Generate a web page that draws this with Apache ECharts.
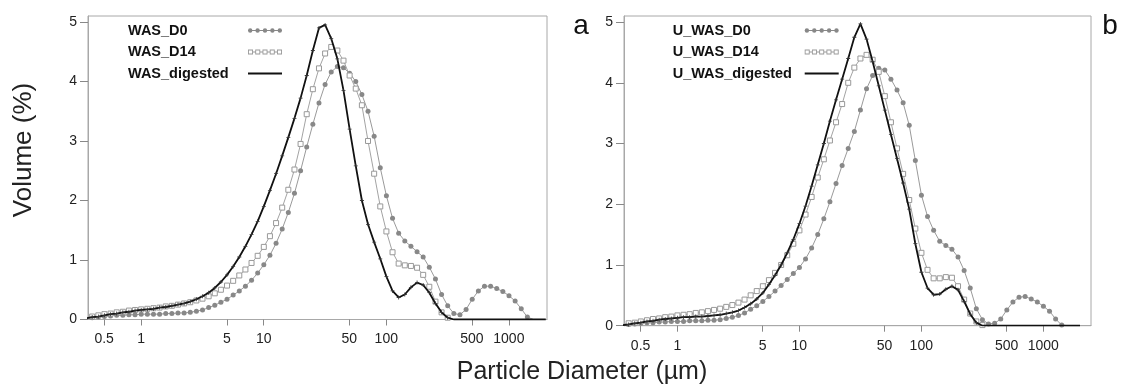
<!DOCTYPE html>
<html><head><meta charset="utf-8">
<script src="https://cdn.jsdelivr.net/npm/echarts@6/dist/echarts.min.js"></script>
<style>html,body{margin:0;padding:0;background:#fff}#c{width:1121px;height:385px}</style>
</head><body><div id="c"></div>
<script>
// Particle size classes (µm)
const diameters = [0.356,0.399,0.448,0.502,0.564,0.632,0.710,0.796,0.893,1.002,1.125,1.262,1.416,1.589,1.783,2.000,2.244,2.518,2.825,3.170,3.557,3.991,4.477,5.024,5.637,6.325,7.096,7.962,8.934,10.024,11.247,12.619,14.159,15.887,17.825,20.000,22.440,25.179,28.251,31.698,35.566,39.905,44.774,50.238,56.368,63.246,70.963,79.621,89.337,100.237,112.468,126.191,141.589,158.866,178.250,200.000,224.404,251.785,282.508,316.979,355.656,399.052,447.744,502.377,563.677,632.456,709.627,796.214,893.367,1002.374,1124.683,1261.915,1415.892,1588.656,1782.502,2000.000];
const xTickLabels = ['0.5','1','5','10','50','100','500','1000'];
const yTickValues = [0,1,2,3,4,5];
const namesA = ['WAS_D0','WAS_D14','WAS_digested'];
const namesB = ['U_WAS_D0','U_WAS_D14','U_WAS_digested'];
const panelLetters = ['a','b'];
const xTitle = 'Particle Diameter (µm)';
const yTitle = 'Volume (%)';

// Panel a
const wasD0 = [0.02,0.03,0.04,0.05,0.06,0.07,0.07,0.08,0.08,0.09,0.09,0.09,0.09,0.10,0.10,0.11,0.11,0.12,0.14,0.16,0.20,0.24,0.29,0.34,0.41,0.48,0.56,0.66,0.78,0.92,1.08,1.28,1.52,1.80,2.12,2.50,2.90,3.28,3.64,3.95,4.16,4.25,4.23,4.14,4.00,3.78,3.50,3.08,2.55,2.08,1.70,1.45,1.32,1.23,1.14,1.05,0.88,0.68,0.42,0.23,0.10,0.08,0.17,0.34,0.48,0.56,0.56,0.52,0.47,0.40,0.31,0.18,0.04,0,0,0];
const wasD14 = [0.03,0.05,0.07,0.09,0.10,0.12,0.13,0.15,0.16,0.17,0.18,0.19,0.20,0.22,0.23,0.25,0.27,0.29,0.32,0.35,0.39,0.44,0.50,0.57,0.65,0.74,0.84,0.95,1.07,1.22,1.40,1.62,1.88,2.18,2.52,2.95,3.45,3.87,4.22,4.47,4.58,4.52,4.35,4.10,3.88,3.60,3.00,2.45,1.90,1.48,1.13,0.94,0.91,0.90,0.87,0.75,0.55,0.30,0.12,0.03,0,0,0,0,0,0,0,0,0,0,0,0,0,0,0,0];
const wasDigested = [0.02,0.04,0.05,0.07,0.09,0.10,0.12,0.13,0.15,0.16,0.17,0.18,0.20,0.21,0.23,0.25,0.27,0.30,0.34,0.39,0.45,0.53,0.63,0.75,0.89,1.05,1.23,1.43,1.65,1.90,2.17,2.45,2.75,3.06,3.38,3.72,4.10,4.52,4.90,4.95,4.72,4.38,3.85,3.20,2.58,2.00,1.60,1.30,1.02,0.72,0.48,0.37,0.42,0.54,0.62,0.58,0.45,0.27,0.12,0.03,0,0,0,0,0,0,0,0,0,0,0,0,0,0,0,0];
// Panel b
const uwasD0 = [0.01,0.02,0.03,0.04,0.05,0.05,0.06,0.06,0.07,0.07,0.07,0.08,0.08,0.08,0.09,0.09,0.10,0.12,0.14,0.17,0.21,0.27,0.33,0.40,0.48,0.57,0.66,0.76,0.86,0.96,1.10,1.28,1.50,1.76,2.04,2.34,2.64,2.92,3.20,3.55,3.90,4.12,4.24,4.21,4.06,3.88,3.67,3.30,2.72,2.15,1.80,1.57,1.39,1.32,1.26,1.13,0.91,0.62,0.28,0.10,0.03,0.04,0.11,0.26,0.39,0.47,0.48,0.44,0.39,0.32,0.24,0.11,0.01,0,0,0];
const uwasD14 = [0.02,0.04,0.05,0.07,0.09,0.11,0.12,0.14,0.15,0.17,0.18,0.19,0.21,0.22,0.24,0.26,0.28,0.31,0.34,0.38,0.43,0.50,0.57,0.65,0.75,0.87,1.00,1.16,1.35,1.57,1.83,2.12,2.44,2.74,3.05,3.35,3.65,4.00,4.25,4.40,4.46,4.38,4.18,3.78,3.35,2.92,2.50,2.07,1.60,1.20,0.92,0.78,0.78,0.80,0.79,0.65,0.43,0.20,0.07,0.01,0,0,0,0,0,0,0,0,0,0,0,0,0,0,0,0];
const uwasDigested = [0.01,0.02,0.04,0.05,0.07,0.08,0.10,0.11,0.12,0.13,0.14,0.14,0.15,0.15,0.16,0.17,0.18,0.20,0.22,0.25,0.30,0.36,0.44,0.54,0.68,0.83,1.00,1.20,1.42,1.68,1.97,2.30,2.65,3.00,3.37,3.72,4.06,4.40,4.75,4.97,4.72,4.35,3.95,3.55,3.15,2.75,2.35,1.92,1.35,0.88,0.62,0.51,0.52,0.60,0.65,0.59,0.40,0.19,0.05,0,0,0,0,0,0,0,0,0,0,0,0,0,0,0,0,0];

const FONT = 'Liberation Sans, Arial, sans-serif';
const xTickVals = xTickLabels.map(s => Math.log10(parseFloat(s)));
const pts = vals => diameters.map((d, i) => [Math.log10(d), vals[i]]);

function dotPath(cx){ return 'M'+(cx-2.2)+',2.2a2.2,2.2 0 1,1 4.4,0a2.2,2.2 0 1,1 -4.4,0Z'; }
const dotX = [2.2,9.6,17,24.4,31.8];
const ICON_D0 = 'path://M0,1.7H34V2.7H0Z ' + dotX.map(dotPath).join(' ');
function sqPath(x0){ return 'M'+x0+',0H'+(x0+5)+'V5H'+x0+'Z M'+(x0+0.9)+',0.9V4.1H'+(x0+4.1)+'V0.9Z'; }
const sqX = [0,7.25,14.5,21.75,29];
let icon14 = 'path://' + sqX.map(sqPath).join(' ');
for (let i = 0; i < 4; i++) { icon14 += ' M'+(sqX[i]+5)+',2.1H'+sqX[i+1]+'V2.9H'+(sqX[i]+5)+'Z'; }
const ICON_DIG = 'path://M0,0H34V1.8H0Z';

const styles = [
  { symbol: 'circle', size: 5, item: { color: '#888888', borderWidth: 0 }, line: { color: '#9a9a9a', width: 1 }, icon: ICON_D0, iconColor: '#888888' },
  { symbol: 'rect', size: 5, item: { color: '#ffffff', borderColor: '#999999', borderWidth: 1 }, line: { color: '#a3a3a3', width: 1 }, icon: icon14, iconColor: '#9a9a9a' },
  { symbol: 'path://M2,0H3V5H2Z M0,2H5V3H0Z', size: 4, item: { color: '#333333', borderWidth: 0 }, line: { color: '#111111', width: 1.8 }, icon: ICON_DIG, iconColor: '#111111' }
];

const panels = [
  { names: namesA, data: [wasD0, wasD14, wasDigested], grid: { left: 88, top: 16, width: 459, height: 303.5 }, xMin: -0.433, xMax: 3.311, legendLeft: 128, textW: 115 },
  { names: namesB, data: [uwasD0, uwasD14, uwasDigested], grid: { left: 624, top: 16, width: 467, height: 309.7 }, xMin: -0.437, xMax: 3.391, legendLeft: 672.7, textW: 127 }
];

const option = {
  animation: false,
  backgroundColor: '#ffffff',
  textStyle: { fontFamily: FONT },
  grid: panels.map(p => Object.assign({ show: true, borderColor: '#a8a8a8', borderWidth: 1, backgroundColor: 'transparent', containLabel: false }, p.grid)),
  xAxis: panels.map((p, gi) => ({
    type: 'value', gridIndex: gi, min: p.xMin, max: p.xMax,
    axisLine: { show: true, onZero: false, lineStyle: { color: '#a8a8a8', width: 1 } },
    axisTick: { show: true, length: 6, customValues: xTickVals, lineStyle: { color: '#888888' } },
    axisLabel: { show: true, customValues: xTickVals, margin: 13, fontSize: 14, color: '#222', fontFamily: FONT,
      formatter: v => { let best = 0; xTickVals.forEach((t, i) => { if (Math.abs(t - v) < Math.abs(xTickVals[best] - v)) best = i; }); return xTickLabels[best]; } },
    splitLine: { show: false }
  })),
  yAxis: panels.map((p, gi) => ({
    type: 'value', gridIndex: gi, min: 0, max: 5.1,
    axisLine: { show: true, onZero: false, lineStyle: { color: '#a8a8a8', width: 1 } },
    axisTick: { show: true, length: 8, customValues: yTickValues, lineStyle: { color: '#888888' } },
    axisLabel: { show: true, customValues: yTickValues, margin: 11, fontSize: 14, color: '#222', fontFamily: FONT },
    splitLine: { show: false }
  })),
  legend: panels.map(p => ({
    orient: 'vertical', left: p.legendLeft, top: 23, align: 'right', padding: 0,
    itemWidth: 34, itemHeight: 6, itemGap: 6.5, selectedMode: false,
    formatter: '{t|{name}}',
    textStyle: { rich: { t: { width: p.textW, align: 'left', fontSize: 14.5, fontWeight: 'bold', fontFamily: FONT, color: '#111', lineHeight: 14 } } },
    data: p.names.map((n, k) => ({ name: n, icon: styles[k].icon, itemStyle: { color: styles[k].iconColor, borderWidth: 0 } }))
  })),
  series: [],
  graphic: [
    { type: 'text', x: 24, y: 150, rotation: Math.PI / 2, style: { text: yTitle, fontSize: 26, fontFamily: FONT, fill: '#222', align: 'center', verticalAlign: 'middle' } },
    { type: 'text', x: 582, y: 372, style: { text: xTitle, fontSize: 25, fontFamily: FONT, fill: '#222', align: 'center', verticalAlign: 'middle' } },
    { type: 'text', x: 581, y: 26, style: { text: panelLetters[0], fontSize: 28, fontFamily: FONT, fill: '#111', align: 'center', verticalAlign: 'middle' } },
    { type: 'text', x: 1110, y: 26, style: { text: panelLetters[1], fontSize: 28, fontFamily: FONT, fill: '#111', align: 'center', verticalAlign: 'middle' } }
  ]
};

panels.forEach((p, gi) => {
  p.names.forEach((n, k) => {
    const s = styles[k];
    option.series.push({
      name: n, type: 'line', xAxisIndex: gi, yAxisIndex: gi,
      data: pts(p.data[k]),
      symbol: s.symbol,
      symbolSize: v => (v[1] > 0 ? s.size : 0),
      showSymbol: true,
      itemStyle: s.item,
      lineStyle: s.line,
      emphasis: { disabled: true },
      silent: true,
      z: 2 + k
    });
  });
});

const chart = echarts.init(document.getElementById('c'), null, { renderer: 'canvas' });
chart.setOption(option);
</script>
</body></html>
